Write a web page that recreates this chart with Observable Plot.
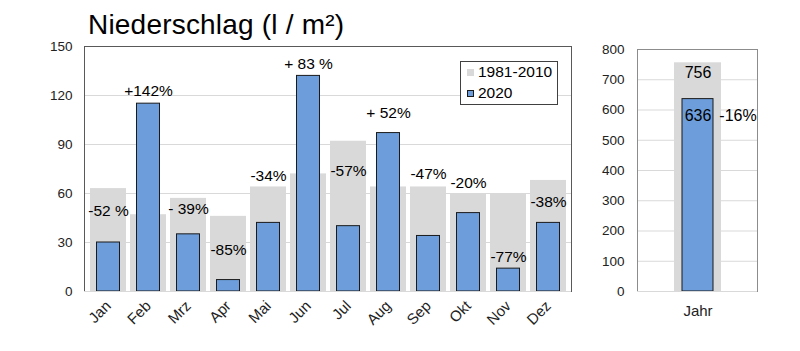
<!DOCTYPE html>
<html>
<head>
<meta charset="utf-8">
<script src="https://cdn.jsdelivr.net/npm/d3@7"></script>
<script src="https://cdn.jsdelivr.net/npm/@observablehq/plot@0.6"></script>
<style>
  html, body { margin: 0; padding: 0; background: #fff; }
  #wrap { position: relative; width: 800px; height: 351px; overflow: hidden; font-family: "Liberation Sans", Arial, sans-serif; }
  #title { position: absolute; left: 88px; top: 9px; font-size: 28px; line-height: 32px; color: #000; white-space: nowrap; letter-spacing: 0.2px; }
  #left { position: absolute; left: 0; top: 0; }
  #right { position: absolute; left: 590px; top: 0; }
  #legend { position: absolute; left: 460px; top: 61px; width: 96px; height: 42px; border: 1px solid #404040; background: #fff; font-size: 15.5px; color: #000; }
  .li { position: absolute; left: 6px; display: flex; align-items: center; white-space: nowrap; }
  .sw { width: 7px; height: 7px; margin-right: 4px; box-sizing: border-box; }
</style>
</head>
<body>
<div id="wrap">
  <div id="left"></div>
  <div id="right"></div>
  <div id="title">Niederschlag (l / m²)</div>
  <div id="legend"></div>
</div>
<script>
// ---- data ----
const months = ["Jan","Feb","Mrz","Apr","Mai","Jun","Jul","Aug","Sep","Okt","Nov","Dez"];
const normal = [63, 47, 57, 46, 64, 72, 92, 64, 64, 60, 60, 68];     // 1981-2010
const y2020  = [30, 115, 35, 7, 42, 132, 40, 97, 34, 48, 14, 42];     // 2020
const pctLabels = ["-52 %","+142%","- 39%","-85%","-34%","+ 83 %","-57%","+ 52%","-47%","-20%","-77%","-38%"];
const pctLabelY = [49.4, 123, 50.2, 25.3, 70.6, 139, 73.9, 109.4, 71.8, 66.5, 20.8, 54.5];
const monthTicks = [0, 30, 60, 90, 120, 150];

const yearCat = ["Jahr"];
const yearNormal = [756];
const year2020 = [636];
const yearPct = ["-16%"];
const yearLabelNormalY = [724];
const yearLabel2020Y = [582];
const yearTicks = [0, 100, 200, 300, 400, 500, 600, 700, 800];

const seriesNames = ["1981-2010", "2020"];
const seriesColors = ["#d9d9d9", "#6d9edb"];

// ---- tables ----
const monthRows = months.map((m, i) => ({m, normal: normal[i], v: y2020[i], label: pctLabels[i], ly: pctLabelY[i]}));
const yearRows = yearCat.map((m, i) => ({m, normal: yearNormal[i], v: year2020[i], pct: yearPct[i], ln: yearLabelNormalY[i], lv: yearLabel2020Y[i]}));

const FONT = "Liberation Sans, Arial, sans-serif";
const GRID = "#d9d9d9";
const FRAME = "#595959";

// ---- left chart ----
const left = Plot.plot({
  width: 590, height: 351,
  marginTop: 46, marginBottom: 60, marginLeft: 84, marginRight: 19,
  style: {fontFamily: FONT, fontSize: "13px", color: "#222", background: "transparent"},
  x: {domain: months, padding: 0.11, label: null},
  y: {domain: [0, 150], label: null},
  marks: [
    Plot.gridY(monthTicks.filter(d => d > 0 && d < 150), {stroke: GRID, strokeOpacity: 1}),
    Plot.barY(monthRows, {x: "m", y: "normal", fill: seriesColors[0]}),
    Plot.barY(monthRows, {x: "m", y: "v", fill: seriesColors[1], stroke: "#1a1a1a", strokeWidth: 1, insetLeft: 6.5, insetRight: 6.5}),
    Plot.text(monthRows, {x: "m", y: "ly", text: "label", fontSize: 15.5, fill: "#000"}),
    Plot.axisY({ticks: monthTicks, tickSize: 0, tickPadding: 12, fontSize: 13.5, label: null}),
    Plot.axisX({tickSize: 0, tickRotate: -45, tickPadding: 12, fontSize: 15, label: null, dx: 0}),
    Plot.frame({stroke: FRAME}),
    Plot.ruleY([0], {stroke: GRID})
  ]
});
document.getElementById("left").appendChild(left);

// ---- right chart ----
const right = Plot.plot({
  width: 210, height: 351,
  marginTop: 49, marginBottom: 60, marginLeft: 47, marginRight: 43,
  style: {fontFamily: FONT, fontSize: "13px", color: "#222", background: "transparent"},
  x: {domain: yearCat, padding: 0.437, label: null},
  y: {domain: [0, 800], label: null},
  marks: [
    Plot.gridY(yearTicks.filter(d => d > 0 && d < 800), {stroke: GRID, strokeOpacity: 1}),
    Plot.barY(yearRows, {x: "m", y: "normal", fill: seriesColors[0]}),
    Plot.barY(yearRows, {x: "m", y: "v", fill: seriesColors[1], stroke: "#1a1a1a", strokeWidth: 1, insetLeft: 8, insetRight: 8}),
    Plot.text(yearRows, {x: "m", y: "ln", text: d => String(d.normal), fontSize: 16, fill: "#000"}),
    Plot.text(yearRows, {x: "m", y: "lv", text: d => String(d.v), fontSize: 16, fill: "#000"}),
    Plot.text(yearRows, {x: "m", y: "lv", text: "pct", fontSize: 16, fill: "#000", dx: 40}),
    Plot.axisY({ticks: yearTicks, tickSize: 0, tickPadding: 13, fontSize: 13.5, label: null}),
    Plot.axisX({tickSize: 0, tickPadding: 14, fontSize: 15, label: null}),
    Plot.frame({stroke: "#8c8c8c"}),
    Plot.ruleY([0], {stroke: GRID})
  ]
});
document.getElementById("right").appendChild(right);

// ---- legend ----
const legend = document.getElementById("legend");
seriesNames.forEach((name, i) => {
  const row = document.createElement("div");
  row.className = "li";
  row.style.top = (i === 0 ? 1 : 22) + "px";
  const sw = document.createElement("div");
  sw.className = "sw";
  sw.style.background = seriesColors[i];
  if (i === 1) sw.style.border = "1px solid #1a1a1a";
  const t = document.createElement("span");
  t.textContent = name;
  row.appendChild(sw); row.appendChild(t);
  legend.appendChild(row);
});
</script>
</body>
</html>
